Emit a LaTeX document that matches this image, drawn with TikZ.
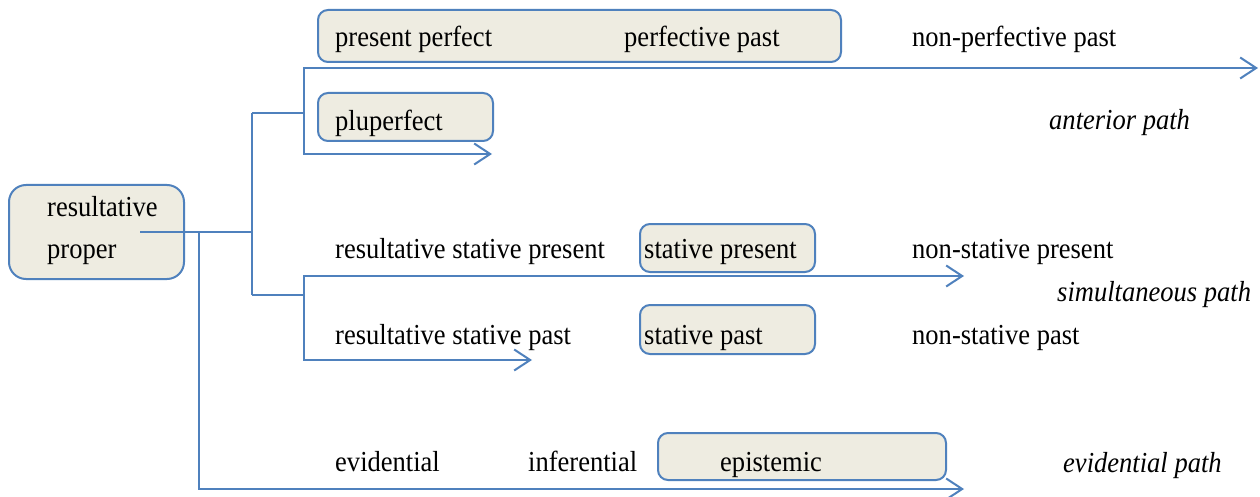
\documentclass[tikz,border=0pt]{standalone}
\usepackage{fontspec}
\setmainfont[FakeStretch=0.915]{Liberation Serif}
\usetikzlibrary{arrows.meta}
\definecolor{lineblue}{RGB}{79,129,189}
\definecolor{boxfill}{RGB}{238,236,225}
\begin{document}
\begin{tikzpicture}[x=1pt,y=-1pt,
  >={Straight Barb[length=16pt,width=21pt]},
  conn/.style={draw=lineblue,line width=2pt,line join=miter},
  box/.style={draw=lineblue,line width=2pt,fill=boxfill,rounded corners=10pt,inner sep=0pt,anchor=north west},
  lbl/.style={anchor=base west,inner sep=0pt,font=\fontsize{29}{34}\selectfont},
  path label/.style={lbl,font=\fontsize{29}{34}\selectfont\itshape}]
\useasboundingbox (0,0) rectangle (1260,497);
\fill[white] (0,0) rectangle (1260,497);
% boxes
\node[box,rounded corners=17pt,minimum width=175pt,minimum height=94pt] (rpbox) at (8,184) {};
\node[box,minimum width=523pt,minimum height=52pt] (ppbox) at (317,9) {};
\node[box,minimum width=175pt,minimum height=48pt] (plubox) at (317,92) {};
\node[box,minimum width=175pt,minimum height=48pt] (sprbox) at (639,223) {};
\node[box,minimum width=175pt,minimum height=49pt] (spabox) at (639,304) {};
\node[box,minimum width=288pt,minimum height=47pt] (epibox) at (657,432) {};
% labels
\node[lbl] (res1) at (47,216) {resultative};
\node[lbl] (res2) at (47,258) {proper};
\node[lbl] (pp) at (335,47) {present perfect};
\node[lbl] (pfp) at (624,47) {perfective past};
\node[lbl] (npp) at (912,47) {non-perfective past};
\node[lbl] (plu) at (335,131) {pluperfect};
\node[path label] (ant) at (1049,130) {anterior path};
\node[lbl] (rsp) at (335,258) {resultative stative present};
\node[lbl] (spr) at (644,258) {stative present};
\node[lbl] (nspr) at (912,258) {non-stative present};
\node[path label] (sim) at (1057,301) {simultaneous path};
\node[lbl] (rspa) at (335,344) {resultative stative past};
\node[lbl] (spa) at (644,344) {stative past};
\node[lbl] (nspa) at (912,344) {non-stative past};
\node[lbl] (evi) at (335,471) {evidential};
\node[lbl] (inf) at (528,471) {inferential};
\node[lbl] (epi) at (720,471) {epistemic};
\node[path label] (evp) at (1063,472) {evidential path};
% junction coordinates
\coordinate (c0) at (140,232);
\coordinate (j1) at (199,232);
\coordinate (j2) at (252,232);
\coordinate (a0) at (252,113);
\coordinate (s0) at (252,295);
\coordinate (a1) at (304,113);
\coordinate (s1) at (304,295);
\coordinate (aT) at (304,68);
\coordinate (aB) at (304,154);
\coordinate (sT) at (304,276);
\coordinate (sB) at (304,360);
\coordinate (e1) at (199,489);
\coordinate (aTend) at (1258,68);
\coordinate (aBend) at (492,154);
\coordinate (sTend) at (964,276);
\coordinate (sBend) at (532,360);
\coordinate (eEnd) at (964,489);
% connectors
\draw[conn] (c0) -- (j2);
\draw[conn] (a0) -- (s0);
\draw[conn] (a0) -- (a1);
\draw[conn] (s0) -- (s1);
\draw[conn,<->] (aTend) -- (aT) -- (aB) -- (aBend);
\draw[conn,<->] (sTend) -- (sT) -- (sB) -- (sBend);
\draw[conn,->] (j1) -- (e1) -- (eEnd);
\end{tikzpicture}
\end{document}
